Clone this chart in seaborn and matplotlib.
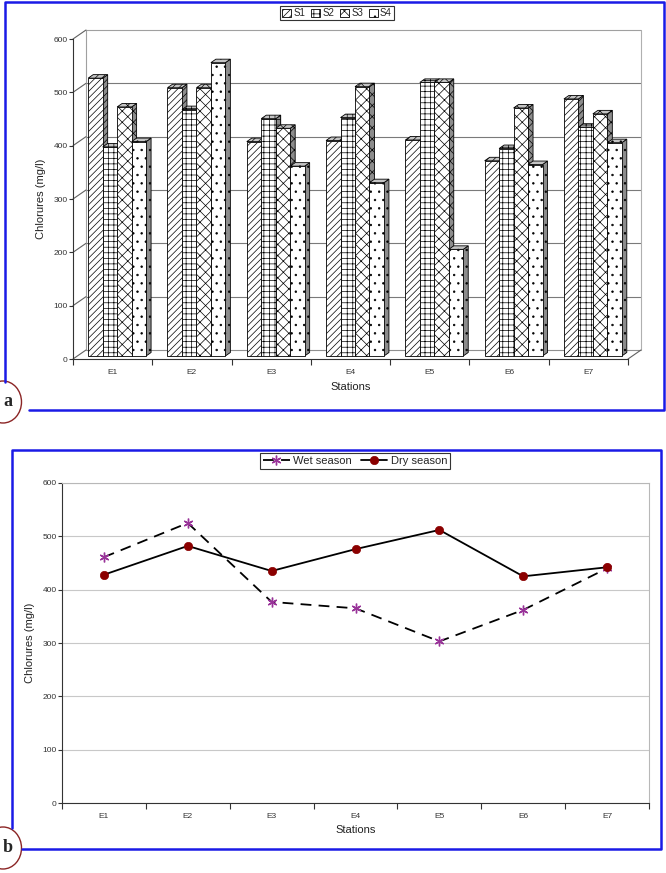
import numpy as np
import pandas as pd
import matplotlib
matplotlib.use("Agg")
import matplotlib.pyplot as plt
import seaborn as sns
from matplotlib.patches import Polygon, Patch, Ellipse
from matplotlib.lines import Line2D

# ---------------- data ----------------
stations = ["E1", "E2", "E3", "E4", "E5", "E6", "E7"]
series = ["S1", "S2", "S3", "S4"]
s1 = [521, 503, 402, 404, 405, 366, 482]
s2 = [392, 462, 445, 447, 513, 389, 429]
s3 = [467, 503, 427, 505, 513, 465, 454]
s4 = [402, 550, 356, 325, 200, 359, 400]
wet = [461, 525, 377, 365, 303, 362, 440]
dry = [428, 482, 435, 476, 512, 425, 442]
yticks = [0, 100, 200, 300, 400, 500, 600]

hatches = ["/////", "+++", "xxx", ".."]

sns.set_theme(style="white")
plt.rcParams["font.family"] = ["Liberation Sans", "DejaVu Sans"]
plt.rcParams["hatch.linewidth"] = 0.5

W, H = 666, 873
DPI = 100
fig = plt.figure(figsize=(W / DPI, H / DPI), dpi=DPI)
fig.patch.set_facecolor("white")


def fx(px):
    return px / W


def fy(py):
    return 1 - py / H


# ================= top chart (pseudo 3D bars) =================
aL, aR, aT, aB = 73, 628, 39, 359
ax1 = fig.add_axes([fx(aL), fy(aB), (aR - aL) / W, (aB - aT) / H])
df = pd.concat(
    [pd.DataFrame({"Station": stations, "Value": v, "Series": s})
     for s, v in zip(series, [s1, s2, s3, s4])],
    ignore_index=True,
)
sns.barplot(data=df, x="Station", y="Value", hue="Series", order=stations,
            hue_order=series, palette=["white"] * 4, saturation=1,
            width=0.73, edgecolor="black", linewidth=0.6, legend=False,
            errorbar=None, ax=ax1)
ax1.set_xlim(-0.5, 6.5)
ax1.set_ylim(0, 600)

px_x = (aR - aL) / 7.0
px_y = (aB - aT) / 600.0
wdx, wdy = 13 / px_x, 9 / px_y          # back wall depth
odx, ody = 4.5 / px_x, 3.0 / px_y       # bar front offset
bdx, bdy = 5.0 / px_x, 3.5 / px_y       # bar depth

# back wall and floor
wall_kw = dict(clip_on=False, zorder=0.5)
for v in yticks[1:-1]:
    ax1.plot([-0.5 + wdx, 6.5 + wdx], [v + wdy, v + wdy], color="#7a7a7a", lw=0.8, **wall_kw)
ax1.plot([-0.5 + wdx, 6.5 + wdx], [600 + wdy, 600 + wdy], color="#a0a0a0", lw=0.8, **wall_kw)
ax1.plot([-0.5 + wdx, 6.5 + wdx], [wdy, wdy], color="#909090", lw=0.8, **wall_kw)
ax1.plot([-0.5 + wdx, -0.5 + wdx], [wdy, 600 + wdy], color="#a0a0a0", lw=0.8, **wall_kw)
ax1.plot([6.5 + wdx, 6.5 + wdx], [wdy, 600 + wdy], color="#b0b0b0", lw=0.8, **wall_kw)
for v in yticks:
    ax1.plot([-0.5, -0.5 + wdx], [v, v + wdy], color="#606060", lw=0.8, **wall_kw)
ax1.plot([6.5, 6.5 + wdx], [0, wdy], color="#606060", lw=0.8, **wall_kw)

# 3D bars from the library's patches
bars = []
for cont, h in zip(ax1.containers, hatches):
    for b in cont:
        b.set_hatch(h)
        bars.append(b)
bars.sort(key=lambda b: b.get_x())
for i, b in enumerate(bars):
    x0 = b.get_x() + odx
    w = b.get_width()
    hgt = b.get_height()
    b.set_x(x0)
    b.set_y(ody)
    h = b.get_hatch()
    z = 2 + i * 0.01
    b.set_zorder(z + 0.005)
    y0, y1 = ody, ody + hgt
    side = Polygon([(x0 + w, y0), (x0 + w + bdx, y0 + bdy), (x0 + w + bdx, y1 + bdy), (x0 + w, y1)],
                   closed=True, facecolor="#8c8c8c", edgecolor="black", lw=0.6, hatch=h, zorder=z)
    top = Polygon([(x0, y1), (x0 + w, y1), (x0 + w + bdx, y1 + bdy), (x0 + bdx, y1 + bdy)],
                  closed=True, facecolor="#c4c4c4", edgecolor="black", lw=0.6, hatch=h, zorder=z)
    ax1.add_patch(side)
    ax1.add_patch(top)

for sp in ["top", "right"]:
    ax1.spines[sp].set_visible(False)
for sp in ["left", "bottom"]:
    ax1.spines[sp].set_color("#333333")
    ax1.spines[sp].set_linewidth(0.8)
ax1.set_yticks(yticks)
ax1.set_xticks(np.arange(-0.5, 7, 1), minor=True)
ax1.tick_params(axis="y", left=True, direction="out", length=3, width=0.8,
                labelsize=6, pad=1, colors="#333333")
ax1.tick_params(axis="x", which="major", bottom=False, length=0, labelsize=6, pad=7, colors="#333333")
ax1.tick_params(axis="x", which="minor", bottom=True, length=4, width=0.8, direction="out", color="#333333")
ax1.set_xlabel("Stations", fontsize=8, color="#222222")
ax1.set_ylabel("Chlorures (mg/l)", fontsize=8, color="#222222")
ax1.xaxis.set_label_coords(0.5, -(382 - aB) / (aB - aT))
ax1.yaxis.set_label_coords(-(aL - 46) / (aR - aL), 0.5)
ax1.grid(False)

leg1 = fig.legend(
    [Patch(facecolor="white", edgecolor="black", lw=0.6, hatch=h) for h in hatches],
    series, loc="center", bbox_to_anchor=(fx(337), fy(13)), ncol=4, fontsize=7,
    handlelength=0.9, handleheight=0.9, handletextpad=0.25, columnspacing=0.6,
    borderpad=0.25, fancybox=False, edgecolor="#333333", framealpha=1,
)
leg1.get_frame().set_linewidth(0.8)

# ================= bottom chart (lines) =================
bL, bR, bT, bB = 62, 649, 483, 803
ax2 = fig.add_axes([fx(bL), fy(bB), (bR - bL) / W, (bB - bT) / H])
sns.lineplot(x=stations, y=wet, ax=ax2, color="black", lw=1.3, linestyle=(0, (6, 4)),
             marker=(6, 2, 0), markersize=7, markeredgecolor="#993399",
             markerfacecolor="#993399", markeredgewidth=1.0, label="Wet season", sort=False)
sns.lineplot(x=stations, y=dry, ax=ax2, color="black", lw=1.3,
             marker="o", markersize=6, markeredgecolor="#8b0000",
             markerfacecolor="#8b0000", markeredgewidth=0.5, label="Dry season", sort=False)
handles, labels = ax2.get_legend_handles_labels()
if ax2.get_legend() is not None:
    ax2.get_legend().remove()
ax2.set_xlim(-0.5, 6.5)
ax2.set_ylim(0, 600)
ax2.set_yticks(yticks)
ax2.set_xticks(np.arange(-0.5, 7, 1), minor=True)
ax2.yaxis.grid(True, color="#c8c8c8", lw=0.8)
ax2.xaxis.grid(False)
for sp in ["left", "bottom"]:
    ax2.spines[sp].set_color("#333333")
    ax2.spines[sp].set_linewidth(0.8)
for sp in ["top", "right"]:
    ax2.spines[sp].set_color("#b8b8b8")
    ax2.spines[sp].set_linewidth(0.8)
ax2.tick_params(axis="y", left=True, direction="out", length=3, width=0.8,
                labelsize=6, pad=1, colors="#333333")
ax2.tick_params(axis="x", which="major", bottom=False, length=0, labelsize=6, pad=7, colors="#333333")
ax2.tick_params(axis="x", which="minor", bottom=True, length=4, width=0.8, direction="out", color="#333333")
ax2.set_xlabel("Stations", fontsize=8, color="#222222")
ax2.set_ylabel("Chlorures (mg/l)", fontsize=8, color="#222222")
ax2.xaxis.set_label_coords(0.5, -(825 - bB) / (bB - bT))
ax2.yaxis.set_label_coords(-(bL - 35) / (bR - bL), 0.5)

leg2 = fig.legend(handles, labels, loc="center", bbox_to_anchor=(fx(355), fy(461)), ncol=2,
                  fontsize=8, handlelength=2.4, handletextpad=0.3, columnspacing=0.8,
                  borderpad=0.25, fancybox=False, edgecolor="#333333", framealpha=1)
leg2.get_frame().set_linewidth(0.8)

# ================= panel frames and labels =================
blue = "#1a1ae6"
fig.add_artist(Line2D([fx(5), fx(5), fx(664), fx(664), fx(29)],
                      [fy(382), fy(2), fy(2), fy(410), fy(410)],
                      transform=fig.transFigure, color=blue, lw=1.8))
fig.add_artist(Line2D([fx(12), fx(12), fx(661), fx(661), fx(22)],
                      [fy(828), fy(450), fy(450), fy(849), fy(849)],
                      transform=fig.transFigure, color=blue, lw=1.8))
for lab, cy in [("a", 402), ("b", 848)]:
    fig.add_artist(Ellipse((fx(3), fy(cy)), width=37 / W, height=42 / H,
                           transform=fig.transFigure, fill=False,
                           edgecolor="#8b2525", lw=1.0))
    fig.text(fx(8), fy(cy), lab, fontsize=13, fontweight="bold",
             family=["Liberation Serif", "DejaVu Serif"], ha="center", va="center")

fig.savefig("out.png", dpi=DPI)
